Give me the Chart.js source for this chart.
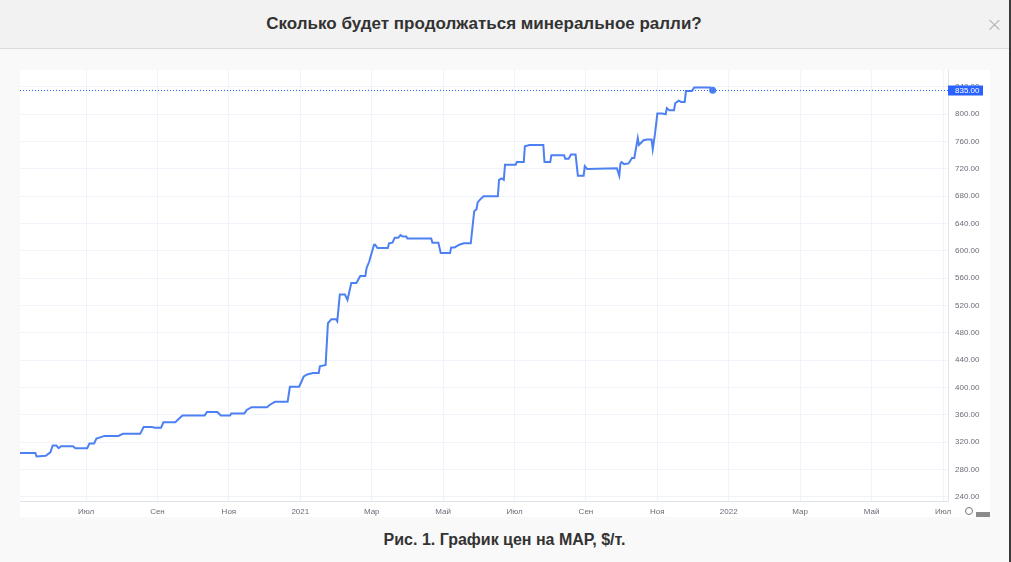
<!DOCTYPE html>
<html lang="ru">
<head>
<meta charset="utf-8">
<title>Сколько будет продолжаться минеральное ралли?</title>
<script src="https://cdn.jsdelivr.net/npm/chart.js@4/dist/chart.umd.min.js"></script>
<style>
  html, body { margin: 0; padding: 0; }
  body {
    width: 1011px; height: 562px; position: relative; overflow: hidden;
    background: #f9f9f9; font-family: 'Liberation Sans', Arial, sans-serif;
  }
  .header {
    position: absolute; left: 0; top: 0; width: 1009px; height: 48px;
    background: #f2f2f2; border-bottom: 1px solid #dcdcdc;
  }
  .header h1 {
    position: absolute; left: 0; top: 14px; width: 968px; margin: 0;
    text-align: center; font-size: 17px; font-weight: bold; color: #333;
  }
  .close {
    position: absolute; left: 986px; top: 14px; font-size: 20px; line-height: 20px;
    color: #b0b0b0; font-family: 'DejaVu Sans', sans-serif; font-weight: 200;
  }
  .edge { position: absolute; left: 1009px; top: 0; width: 2px; height: 562px; background: #3a3a3a; }
  .panel {
    position: absolute; left: 20px; top: 70px; width: 970px; height: 447px; background: #fff;
  }
  .gear {
    position: absolute; left: 965px; top: 507px; width: 6px; height: 6px;
    border: 1.5px solid #777; border-radius: 50%;
  }
  .gear-box { position: absolute; left: 976px; top: 512px; width: 14px; height: 5px; background: #8a8a8a; }
  .caption {
    position: absolute; left: 0; top: 531px; width: 1009px; text-align: center;
    font-size: 16px; font-weight: bold; color: #333;
  }
</style>
</head>
<body>
<div class="header"><h1>Сколько будет продолжаться минеральное ралли?</h1></div>
<div class="close">×</div>
<div class="edge"></div>
<div class="panel"><canvas id="mapChart" width="970" height="447"></canvas></div>
<div class="gear"></div>
<div class="gear-box"></div>
<div class="caption">Рис. 1. График цен на МАР, $/т.</div>

<script>
// MAP price, $/t
const priceDates = [
    '2020-05-05', '2020-05-19', '2020-05-20', '2020-05-28', '2020-06-01', '2020-06-03', '2020-06-06',
    '2020-06-08', '2020-06-10', '2020-06-20', '2020-06-22', '2020-07-02', '2020-07-04', '2020-07-08',
    '2020-07-10', '2020-07-17', '2020-07-29', '2020-08-02', '2020-08-17', '2020-08-20', '2020-08-27',
    '2020-08-30', '2020-09-04', '2020-09-06', '2020-09-16', '2020-09-19', '2020-09-22', '2020-10-11',
    '2020-10-13', '2020-10-22', '2020-10-25', '2020-11-02', '2020-11-03', '2020-11-14', '2020-11-16',
    '2020-11-20', '2020-12-03', '2020-12-06', '2020-12-10', '2020-12-21', '2020-12-23', '2020-12-31',
    '2021-01-04', '2021-01-07', '2021-01-12', '2021-01-17', '2021-01-18', '2021-01-23', '2021-01-25',
    '2021-01-28', '2021-02-01', '2021-02-02', '2021-02-04', '2021-02-08', '2021-02-10', '2021-02-13',
    '2021-02-17', '2021-02-20', '2021-02-24', '2021-02-25', '2021-02-27', '2021-03-03', '2021-03-04',
    '2021-03-06', '2021-03-15', '2021-03-16', '2021-03-19', '2021-03-21', '2021-03-24', '2021-03-26',
    '2021-03-28', '2021-03-31', '2021-04-01', '2021-04-21', '2021-04-22', '2021-04-27', '2021-04-29',
    '2021-05-07', '2021-05-08', '2021-05-11', '2021-05-15', '2021-05-19', '2021-05-25', '2021-05-28',
    '2021-05-30', '2021-05-31', '2021-06-02', '2021-06-05', '2021-06-17', '2021-06-18', '2021-06-20',
    '2021-06-22', '2021-06-23', '2021-07-02', '2021-07-03', '2021-07-09', '2021-07-10', '2021-07-14',
    '2021-07-26', '2021-07-27', '2021-08-01', '2021-08-02', '2021-08-13', '2021-08-14', '2021-08-17',
    '2021-08-19', '2021-08-23', '2021-08-25', '2021-08-30', '2021-08-31', '2021-09-02', '2021-09-27',
    '2021-09-29', '2021-09-30', '2021-10-01', '2021-10-03', '2021-10-07', '2021-10-10', '2021-10-12',
    '2021-10-15', '2021-10-16', '2021-10-20', '2021-10-23', '2021-10-27', '2021-10-28', '2021-10-30',
    '2021-11-01', '2021-11-05', '2021-11-08', '2021-11-09', '2021-11-11', '2021-11-15', '2021-11-16',
    '2021-11-19', '2021-11-21', '2021-11-24', '2021-11-25', '2021-11-30', '2021-12-02', '2021-12-16',
    '2021-12-18'
];
const priceValues = [
    304, 304, 299, 300, 305, 315, 315,
    311, 314, 314, 311, 311, 318, 318,
    325, 329, 329, 332, 332, 342, 342,
    341, 341, 349, 349, 354, 359, 359,
    364, 364, 359, 359, 362, 362, 367,
    371, 371, 375, 379, 379, 401, 401,
    416, 419, 421, 421, 431, 433, 494,
    500, 500, 497, 536, 536, 528, 553,
    553, 563, 563, 575, 584, 609, 609,
    604, 604, 611, 612, 619, 619, 623,
    621, 621, 618, 618, 612, 612, 597,
    597, 605, 605, 609, 611, 611, 658,
    661, 671, 675, 680, 680, 704, 706,
    704, 726, 726, 730, 730, 753, 755,
    755, 730, 730, 740, 740, 735, 735,
    741, 741, 710, 710, 724, 720, 721,
    710, 728, 730, 727, 728, 736, 736,
    765, 755, 762, 763, 763, 749, 772,
    801, 801, 800, 809, 806, 806, 816,
    820, 818, 818, 834, 834, 839, 839,
    835
];

// x axis: months counted from July 2020, a label every two months
const monthTicks = [0, 2, 4, 6, 8, 10, 12, 14, 16, 18, 20, 22, 24];
const monthLabels = ['Июл', 'Сен', 'Ноя', '2021', 'Мар', 'Май', 'Июл', 'Сен', 'Ноя', '2022', 'Мар', 'Май', 'Июл'];
const priceTicks = [240, 280, 320, 360, 400, 440, 480, 520, 560, 600, 640, 680, 720, 760, 800, 840];

const toMonthIndex = (iso) => {
    const [y, m, d] = iso.split('-').map(Number);
    const daysInMonth = new Date(y, m, 0).getDate();
    return (y - 2020) * 12 + (m - 7) + (d - 1) / daysInMonth;
};

const points = priceDates.map((date, i) => ({ x: toMonthIndex(date), y: priceValues[i] }));
const lastIndex = points.length - 1;
const lineColor = '#4d80f3';
const axisText = '#6a6d78';

// no extra room for half tick labels at the plot edges
const noEdgePadding = (scale) => {
    scale.paddingTop = 0;
    scale.paddingBottom = 0;
    scale.paddingLeft = 0;
    scale.paddingRight = 0;
};

// dotted last-price line and blue price tag on the right scale
const lastPricePlugin = {
    id: 'lastPrice',
    afterDraw(chart) {
        const { ctx, chartArea, scales } = chart;
        const last = priceValues[priceValues.length - 1];
        const y = Math.round(scales.y.getPixelForValue(last)) + 0.5;

        ctx.save();
        ctx.strokeStyle = '#2962ff';
        ctx.lineWidth = 1;
        ctx.setLineDash([1, 2]);
        ctx.beginPath();
        ctx.moveTo(chartArea.left, y);
        ctx.lineTo(chartArea.right, y);
        ctx.stroke();
        ctx.setLineDash([]);

        ctx.fillStyle = '#2962ff';
        ctx.fillRect(chartArea.right, y - 5, 35, 10);
        ctx.fillStyle = '#fff';
        ctx.font = '8px "Liberation Sans", Arial, sans-serif';
        ctx.textBaseline = 'middle';
        ctx.textAlign = 'left';
        ctx.fillText(last.toFixed(2), chartArea.right + 7, y + 0.5);
        ctx.restore();
    },
};

new Chart(document.getElementById('mapChart'), {
    type: 'line',
    data: {
        datasets: [
            {
                label: 'МАР, $/т',
                data: points,
                borderColor: lineColor,
                backgroundColor: lineColor,
                borderWidth: 2,
                tension: 0,
                pointRadius: (ctx) => (ctx.dataIndex === lastIndex ? 2.5 : 0),
                pointHoverRadius: 0,
            },
        ],
    },
    options: {
        responsive: false,
        animation: false,
        layout: { padding: 0, autoPadding: false },
        plugins: {
            legend: { display: false },
            tooltip: { enabled: false },
        },
        scales: {
            x: {
                type: 'linear',
                min: -1.85,
                max: 24.14,
                afterBuildTicks: (scale) => {
                    scale.ticks = monthTicks.map((value) => ({ value }));
                },
                afterFit: (scale) => {
                    scale.height = 16;
                    noEdgePadding(scale);
                },
                ticks: {
                    autoSkip: false,
                    maxRotation: 0,
                    padding: 6,
                    color: axisText,
                    font: { size: 8, family: '"Liberation Sans", Arial, sans-serif' },
                    callback: (value) => monthLabels[monthTicks.indexOf(value)] ?? '',
                },
                grid: { color: '#f0f3fa', drawTicks: false },
                border: { color: '#e0e3eb' },
            },
            y: {
                position: 'right',
                min: 233.7,
                max: 864.8,
                afterBuildTicks: (scale) => {
                    scale.ticks = priceTicks.map((value) => ({ value }));
                },
                afterFit: (scale) => {
                    scale.width = 42;
                    noEdgePadding(scale);
                },
                ticks: {
                    padding: 7,
                    color: axisText,
                    font: { size: 8, family: '"Liberation Sans", Arial, sans-serif' },
                    callback: (value) => Number(value).toFixed(2),
                },
                grid: { color: '#f0f3fa', drawTicks: false },
                border: { color: '#e0e3eb' },
            },
        },
    },
    plugins: [lastPricePlugin],
});
</script>
</body>
</html>
